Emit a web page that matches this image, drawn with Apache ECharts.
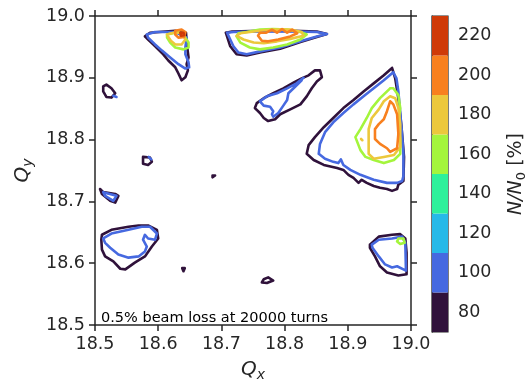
<!DOCTYPE html>
<html><head><meta charset="utf-8">
<script src="https://cdn.jsdelivr.net/npm/echarts@6/dist/echarts.min.js"></script>
<style>html,body{margin:0;padding:0;background:#fff}#c{width:529px;height:387px}</style>
</head><body><div id="c"></div>
<script>
// Axis ranges and ticks
const xTicks = [18.5, 18.6, 18.7, 18.8, 18.9, 19.0];
const yTicks = [18.5, 18.6, 18.7, 18.8, 18.9, 19.0];
// Contour levels (N/N0 %) and colorbar
const levels = [80, 100, 120, 140, 160, 180, 200, 220];
const bandBounds = [70, 90, 110, 130, 150, 170, 190, 210, 230];
const levelColors = ['#30123b', '#4669e0', '#27b9e8', '#2ef09b', '#a4f53c', '#ecc83c', '#f8801f', '#cf3a08'];
const annotation = '0.5% beam loss at 20000 turns';

// ---- contour paths [Qx, Qy] ----
// top-left island
const tl80 = [[18.579,18.967],[18.587,18.973],[18.611,18.975],[18.627,18.976],[18.644,18.973],[18.645,18.957],[18.648,18.933],[18.645,18.922],[18.647,18.912],[18.643,18.901],[18.637,18.896],[18.632,18.907],[18.627,18.917],[18.616,18.928],[18.608,18.938],[18.600,18.946],[18.592,18.954],[18.584,18.962]];
const tl100 = [[18.582,18.970],[18.595,18.974],[18.616,18.974],[18.627,18.974],[18.645,18.965],[18.643,18.949],[18.643,18.938],[18.648,18.925],[18.649,18.917],[18.643,18.915],[18.632,18.922],[18.619,18.933],[18.606,18.944],[18.595,18.954],[18.584,18.965]];
const tl160 = [[18.614,18.970],[18.632,18.974],[18.643,18.965],[18.648,18.957],[18.648,18.949],[18.640,18.946],[18.627,18.949],[18.619,18.957],[18.614,18.965]];
const tl180 = [[18.614,18.970],[18.624,18.973],[18.637,18.973],[18.643,18.962],[18.637,18.954],[18.627,18.954],[18.620,18.960],[18.616,18.966]];
const tl200 = [[18.627,18.976],[18.637,18.978],[18.643,18.974],[18.641,18.966],[18.632,18.965],[18.627,18.970]];
const tl220 = [[18.635,18.973],[18.640,18.973],[18.641,18.969],[18.636,18.968]];
// top-middle island
const tm80 = [[18.707,18.973],[18.714,18.951],[18.724,18.938],[18.740,18.936],[18.761,18.941],[18.793,18.947],[18.825,18.958],[18.851,18.966],[18.867,18.971],[18.851,18.975],[18.814,18.976],[18.761,18.976],[18.717,18.975]];
const tm100 = [[18.709,18.973],[18.719,18.951],[18.727,18.941],[18.740,18.938],[18.767,18.944],[18.793,18.949],[18.825,18.959],[18.851,18.967],[18.867,18.971],[18.851,18.974],[18.814,18.975],[18.761,18.975],[18.719,18.974]];
const tm160 = [[18.724,18.967],[18.730,18.957],[18.745,18.949],[18.761,18.946],[18.782,18.949],[18.804,18.954],[18.825,18.962],[18.835,18.970],[18.825,18.974],[18.804,18.978],[18.782,18.979],[18.761,18.978],[18.740,18.974],[18.727,18.972]];
const tm180 = [[18.724,18.968],[18.735,18.962],[18.751,18.957],[18.767,18.956],[18.788,18.959],[18.809,18.963],[18.830,18.968],[18.827,18.974],[18.809,18.978],[18.788,18.978],[18.767,18.977],[18.745,18.974],[18.730,18.972]];
const tm200 = [[18.758,18.968],[18.764,18.960],[18.774,18.959],[18.790,18.962],[18.809,18.967],[18.820,18.972],[18.812,18.978],[18.804,18.973],[18.796,18.979],[18.788,18.973],[18.780,18.978],[18.771,18.973],[18.761,18.973]];
// middle island
const mi80 = [[18.756,18.859],[18.753,18.851],[18.761,18.843],[18.767,18.835],[18.774,18.830],[18.785,18.833],[18.793,18.841],[18.809,18.849],[18.825,18.857],[18.835,18.870],[18.843,18.883],[18.851,18.894],[18.859,18.901],[18.856,18.912],[18.848,18.912],[18.838,18.904],[18.827,18.899],[18.814,18.892],[18.798,18.883],[18.782,18.875],[18.767,18.867]];
const mi100 = [[18.830,18.900],[18.819,18.891],[18.804,18.883],[18.788,18.875],[18.772,18.870],[18.761,18.862],[18.767,18.855],[18.777,18.853],[18.782,18.846],[18.780,18.841],[18.782,18.837],[18.790,18.843],[18.798,18.855],[18.804,18.864],[18.806,18.875],[18.817,18.886],[18.827,18.896]];
// big right island
const br80 = [[18.970,18.916],[18.957,18.904],[18.941,18.891],[18.925,18.878],[18.909,18.864],[18.893,18.851],[18.877,18.835],[18.862,18.820],[18.848,18.804],[18.838,18.791],[18.835,18.777],[18.846,18.767],[18.862,18.759],[18.883,18.754],[18.893,18.751],[18.901,18.743],[18.909,18.738],[18.917,18.730],[18.922,18.735],[18.930,18.730],[18.941,18.725],[18.951,18.722],[18.962,18.720],[18.970,18.717],[18.978,18.720],[18.980,18.727],[18.988,18.733],[18.989,18.772],[18.985,18.820],[18.980,18.867],[18.975,18.899]];
const br100 = [[18.972,18.909],[18.957,18.896],[18.941,18.883],[18.925,18.870],[18.909,18.857],[18.893,18.843],[18.877,18.828],[18.864,18.812],[18.856,18.793],[18.854,18.777],[18.864,18.769],[18.877,18.764],[18.885,18.762],[18.889,18.768],[18.893,18.759],[18.904,18.751],[18.920,18.743],[18.941,18.735],[18.962,18.730],[18.978,18.730],[18.986,18.733],[18.988,18.741],[18.988,18.777],[18.985,18.820],[18.980,18.878],[18.977,18.899]];
const br160 = [[18.967,18.883],[18.951,18.867],[18.938,18.851],[18.930,18.835],[18.920,18.817],[18.912,18.804],[18.909,18.801],[18.920,18.783],[18.928,18.772],[18.941,18.767],[18.957,18.762],[18.973,18.767],[18.983,18.777],[18.983,18.799],[18.980,18.825],[18.983,18.851],[18.980,18.872],[18.972,18.883]];
const br180 = [[18.967,18.870],[18.957,18.862],[18.949,18.849],[18.938,18.835],[18.933,18.817],[18.933,18.801],[18.933,18.777],[18.941,18.769],[18.957,18.772],[18.973,18.775],[18.983,18.788],[18.983,18.825],[18.980,18.851],[18.975,18.867]];
const br180b = [[18.921,18.801],[18.923,18.801],[18.923,18.799],[18.921,18.799]];
const br200 = [[18.967,18.862],[18.962,18.846],[18.957,18.833],[18.949,18.825],[18.943,18.817],[18.943,18.801],[18.951,18.793],[18.962,18.786],[18.967,18.780],[18.978,18.786],[18.980,18.809],[18.978,18.841],[18.972,18.857]];
// bottom-right island
const brr80 = [[18.935,18.630],[18.949,18.643],[18.970,18.646],[18.983,18.647],[18.991,18.640],[18.993,18.617],[18.993,18.582],[18.980,18.580],[18.962,18.585],[18.951,18.595],[18.943,18.611],[18.935,18.625]];
const brr100 = [[18.938,18.630],[18.949,18.638],[18.970,18.640],[18.986,18.643],[18.991,18.633],[18.992,18.588],[18.988,18.590],[18.978,18.595],[18.970,18.593],[18.959,18.598],[18.949,18.611],[18.939,18.625]];
const brr160 = [[18.978,18.635],[18.980,18.640],[18.988,18.640],[18.990,18.633],[18.983,18.631]];
// bottom-left island
const bl80 = [[18.511,18.646],[18.526,18.654],[18.553,18.659],[18.569,18.661],[18.584,18.661],[18.598,18.654],[18.600,18.640],[18.590,18.627],[18.579,18.611],[18.563,18.601],[18.548,18.590],[18.540,18.591],[18.529,18.603],[18.516,18.611],[18.511,18.622],[18.510,18.638]];
const bl100 = [[18.513,18.640],[18.526,18.648],[18.553,18.654],[18.574,18.659],[18.587,18.659],[18.598,18.648],[18.595,18.638],[18.584,18.640],[18.579,18.646],[18.576,18.638],[18.582,18.627],[18.579,18.619],[18.569,18.611],[18.553,18.609],[18.537,18.614],[18.524,18.625],[18.516,18.633]];
// small islands
const s1_80 = [[18.513,18.886],[18.518,18.889],[18.526,18.883],[18.532,18.875],[18.526,18.868],[18.518,18.869],[18.513,18.878]];
const s1_100 = [[18.529,18.871],[18.534,18.869]];
const s2_80 = [[18.576,18.772],[18.587,18.771],[18.590,18.764],[18.584,18.759],[18.576,18.761]];
const s2_100 = [[18.585,18.772],[18.589,18.768]];
const s3_80 = [[18.686,18.742],[18.690,18.742],[18.690,18.739],[18.686,18.739]];
const s4_80 = [[18.508,18.720],[18.513,18.715],[18.532,18.712],[18.537,18.709],[18.532,18.698],[18.524,18.701],[18.511,18.712]];
const s4_100 = [[18.513,18.715],[18.534,18.709],[18.529,18.701],[18.516,18.709]];
const s5_80 = [[18.638,18.592],[18.642,18.592],[18.643,18.589],[18.640,18.587],[18.637,18.589]];
const s6_80 = [[18.767,18.574],[18.774,18.577],[18.782,18.572],[18.772,18.568],[18.764,18.569]];

const contours = [
  {level: 80, path: tl80, closed: true}, {level: 80, path: tm80, closed: true}, {level: 80, path: mi80, closed: true},
  {level: 80, path: br80, closed: true}, {level: 80, path: brr80, closed: true}, {level: 80, path: bl80, closed: true},
  {level: 80, path: s1_80, closed: true}, {level: 80, path: s2_80, closed: true}, {level: 80, path: s3_80, closed: true},
  {level: 80, path: s4_80, closed: true}, {level: 80, path: s5_80, closed: true}, {level: 80, path: s6_80, closed: true},
  {level: 100, path: tl100, closed: true}, {level: 100, path: tm100, closed: true}, {level: 100, path: mi100, closed: false},
  {level: 100, path: br100, closed: true}, {level: 100, path: brr100, closed: true}, {level: 100, path: bl100, closed: true},
  {level: 100, path: s1_100, closed: false}, {level: 100, path: s2_100, closed: false}, {level: 100, path: s4_100, closed: true},
  {level: 160, path: tl160, closed: true}, {level: 160, path: tm160, closed: true}, {level: 160, path: br160, closed: true},
  {level: 160, path: brr160, closed: true},
  {level: 180, path: tl180, closed: true}, {level: 180, path: tm180, closed: true}, {level: 180, path: br180, closed: true},
  {level: 180, path: br180b, closed: true},
  {level: 200, path: tl200, closed: true}, {level: 200, path: tm200, closed: true}, {level: 200, path: br200, closed: true},
  {level: 220, path: tl220, closed: true}
];

const TXT = '#262626';
const FONT = 'DejaVu Sans';

const lineSeries = contours.map(c => ({
  type: 'line', xAxisIndex: 0, yAxisIndex: 0,
  data: c.closed ? c.path.concat([c.path[0]]) : c.path,
  showSymbol: false, symbol: 'none', smooth: false, animation: false, silent: true,
  lineStyle: {width: 2.6, color: levelColors[levels.indexOf(c.level)], join: 'round', cap: 'round'},
  z: 2 + levels.indexOf(c.level)
}));

const bands = levels.map((lv, i) => [bandBounds[i], bandBounds[i + 1], i]);

const chart = echarts.init(document.getElementById('c'), null, {renderer: 'canvas'});
const axisCommon = {
  type: 'value', min: 18.5, max: 19.0, interval: 0.1,
  axisLine: {show: true, onZero: false, lineStyle: {color: TXT, width: 1.5}},
  axisTick: {show: true, inside: false, length: 6, lineStyle: {color: TXT, width: 1.5}},
  splitLine: {show: false}
};
chart.setOption({
  backgroundColor: '#fff',
  textStyle: {fontFamily: FONT},
  animation: false,
  grid: [
    {left: 95, top: 16, width: 316, height: 316, containLabel: false},
    {left: 432, top: 16, width: 16, height: 316, containLabel: false, show: true, borderColor: TXT, borderWidth: 1.2}
  ],
  xAxis: [
    Object.assign({}, axisCommon, {gridIndex: 0, position: 'bottom',
      axisLabel: {show: true, margin: 10, fontSize: 17.5, color: TXT, fontFamily: FONT, formatter: v => v.toFixed(1)},
      name: '{q|Q}{s|x}', nameLocation: 'middle', nameGap: 33,
      nameTextStyle: {rich: {q: {fontSize: 20, fontStyle: 'italic', color: TXT, fontFamily: FONT, lineHeight: 24},
                             s: {fontSize: 14, fontStyle: 'italic', color: TXT, fontFamily: FONT, verticalAlign: 'bottom', lineHeight: 14}}}}),
    Object.assign({}, axisCommon, {gridIndex: 0, position: 'top', axisLabel: {show: false}}),
    {gridIndex: 1, type: 'value', min: 0, max: 1, show: false}
  ],
  yAxis: [
    Object.assign({}, axisCommon, {gridIndex: 0, position: 'left',
      axisLabel: {show: true, margin: 10, fontSize: 17.5, color: TXT, fontFamily: FONT, formatter: v => v.toFixed(1)},
      name: '{q|Q}{s|y}', nameLocation: 'middle', nameGap: 60, nameRotate: 90,
      nameTextStyle: {rich: {q: {fontSize: 20, fontStyle: 'italic', color: TXT, fontFamily: FONT, lineHeight: 24},
                             s: {fontSize: 14, fontStyle: 'italic', color: TXT, fontFamily: FONT, verticalAlign: 'bottom', lineHeight: 14}}}}),
    Object.assign({}, axisCommon, {gridIndex: 0, position: 'right', axisLabel: {show: false}}),
    {gridIndex: 1, type: 'value', min: 70, max: 230, position: 'right',
      axisLine: {show: true, lineStyle: {color: TXT, width: 1.2}},
      axisTick: {show: true, length: 6, customValues: levels, lineStyle: {color: TXT, width: 1.5}},
      axisLabel: {show: true, margin: 10, fontSize: 17.5, color: TXT, fontFamily: FONT, customValues: levels},
      splitLine: {show: false},
      name: '{n|N/N}{s|0}{b| [%]}', nameLocation: 'middle', nameGap: 56, nameRotate: 90,
      nameTextStyle: {rich: {n: {fontSize: 19, fontStyle: 'italic', color: TXT, fontFamily: FONT, lineHeight: 24},
                             s: {fontSize: 13, color: TXT, fontFamily: FONT, verticalAlign: 'bottom', lineHeight: 14},
                             b: {fontSize: 19, color: TXT, fontFamily: FONT, lineHeight: 24}}}}
  ],
  series: lineSeries.concat([{
    type: 'custom', xAxisIndex: 2, yAxisIndex: 2, silent: true, animation: false,
    data: bands,
    renderItem: (params, api) => {
      const lo = api.value(0), hi = api.value(1), idx = api.value(2);
      const p1 = api.coord([0, hi]);
      const p2 = api.coord([1, lo]);
      return {type: 'rect', shape: {x: p1[0], y: p1[1], width: p2[0] - p1[0], height: p2[1] - p1[1]},
              style: {fill: levelColors[idx], stroke: null}};
    },
    z: 1
  }]),
  graphic: [{
    type: 'text', left: 101, top: 311,
    style: {text: annotation, fontSize: 14.5, fontFamily: FONT, fill: '#000'}
  }]
});
</script></body></html>
